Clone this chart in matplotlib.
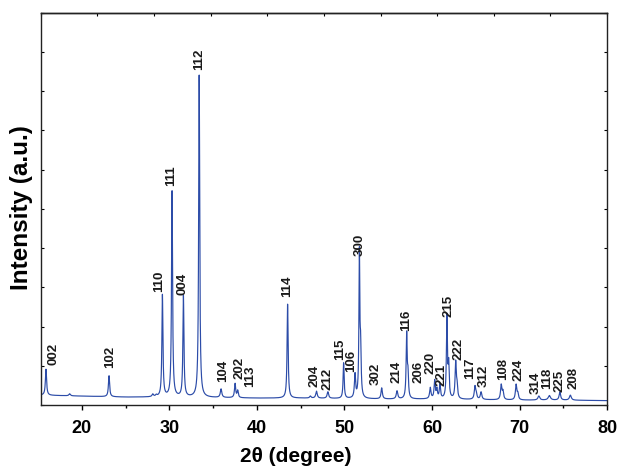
import numpy as np
import matplotlib
matplotlib.use("Agg")
import matplotlib.pyplot as plt
from matplotlib.ticker import MultipleLocator, NullFormatter

plt.rcParams['font.family'] = ['Liberation Sans', 'DejaVu Sans']
plt.rcParams['font.weight'] = 'bold'

# background level read along the pattern (2theta, intensity a.u.)
bg_theta = [15.3, 20, 25, 30, 35, 40, 45, 50, 55, 60, 65, 70, 75, 80]
bg_level = [10, 9, 8, 8, 7.5, 7, 7, 6.5, 6, 6, 5.5, 5, 5, 4.5]

# reflections (incl. K-alpha2 shoulders and small blips): position, net height, width
peak_pos = [15.9, 18.6, 23.1, 28.1, 28.5, 29.2, 30.3, 31.6, 33.4, 35.9,
            37.5, 37.8, 43.5, 46.1, 46.8, 48.1, 49.9, 51.2, 51.7, 51.84,
            54.25, 56.0, 57.1, 57.25, 59.8, 60.3, 60.55, 60.9, 61.7, 61.9,
            62.7, 62.85, 64.9, 65.05, 65.6, 67.9, 68.1, 69.6, 69.8, 72.2,
            73.4, 74.6, 75.8]
peak_height = [26, 2, 21, 2.5, 1.5, 102, 206, 101, 322, 8.5,
               14, 7, 94, 2, 7, 6.5, 35.5, 23.5, 142.5, 45,
               11, 8, 64, 22, 11, 18, 9, 14, 82, 32,
               36, 12, 12.5, 5, 7.5, 14.5, 8, 15, 6, 4,
               4.5, 8, 5]
peak_width = [0.16, 0.2, 0.16, 0.2, 0.2, 0.14, 0.14, 0.14, 0.14, 0.2,
              0.16, 0.16, 0.14, 0.2, 0.2, 0.2, 0.14, 0.16, 0.12, 0.14,
              0.18, 0.2, 0.14, 0.14, 0.18, 0.16, 0.16, 0.16, 0.14, 0.14,
              0.16, 0.16, 0.18, 0.18, 0.2, 0.18, 0.18, 0.18, 0.18, 0.25,
              0.3, 0.2, 0.25]

# hkl labels: text centre (2theta), bottom of text (intensity)
hkl = ['002', '102', '110', '111', '004', '112', '104', '202', '113', '114',
       '204', '212', '115', '106', '300', '302', '214', '116', '206', '220',
       '221', '215', '222', '117', '312', '108', '224', '314', '118', '225',
       '208']
label_x = [16.8, 23.2, 28.8, 30.2, 31.5, 33.4, 36.1, 38.0, 39.2, 43.5,
           46.6, 48.1, 49.5, 50.8, 51.7, 53.6, 55.9, 57.0, 58.5, 59.8,
           61.1, 61.9, 63.0, 64.4, 65.9, 68.1, 69.9, 71.8, 73.2, 74.6,
           76.2]
label_y = [40, 37, 113, 219, 110, 335, 23, 26, 18, 108,
           18, 15, 45, 33, 149, 20, 22, 74, 22, 31,
           19, 88, 45, 26, 18, 25, 24, 11, 16, 13,
           16]

x_min, x_max = 15.3, 80
y_max = 392

theta = np.linspace(x_min, x_max, 8000)
intensity = np.interp(theta, bg_theta, bg_level)
for p, h, w in zip(peak_pos, peak_height, peak_width):
    intensity = intensity + h / (1 + ((theta - p) / (w / 2)) ** 2)

fig = plt.figure(figsize=(6.17, 4.70), dpi=100)
ax = fig.add_axes([0.066, 0.138, 0.918, 0.835])
ax.plot(theta, intensity, color='#2c4ca8', lw=0.85)

for lab, lx, ly in zip(hkl, label_x, label_y):
    ax.text(lx, ly, lab, rotation=90, ha='center', va='bottom',
            fontsize=9.5, fontweight='bold', color='#1a1a1a')

ax.set_xlim(x_min, x_max)
ax.set_ylim(0, y_max)
ax.xaxis.set_major_locator(MultipleLocator(10))
ax.xaxis.set_minor_locator(MultipleLocator(5))
ax.tick_params(axis='x', which='major', direction='out', length=3.5, width=1,
               labelsize=13, pad=7)
ax.tick_params(axis='x', which='minor', direction='out', length=2, width=1)
for t in ax.get_xticklabels():
    t.set_fontweight('bold')

ax.set_yticks(np.linspace(0, y_max, 11))
ax.yaxis.set_major_formatter(NullFormatter())
ax.tick_params(axis='y', which='both', direction='in', length=2.5, width=0.8,
               left=True, right=True)

top = ax.secondary_xaxis('top')
top.set_xticks(np.linspace(x_min, x_max, 11))
top.tick_params(direction='in', length=2.5, width=0.8, labeltop=False)
top.xaxis.set_major_formatter(NullFormatter())

for s in ax.spines.values():
    s.set_linewidth(1.0)
    s.set_color('#222222')
top.spines['top'].set_linewidth(1.0)

fig.text(295.5 / 617, 1 - 457 / 470, '2θ (degree)', ha='center', va='center',
         fontsize=15, fontweight='bold')
fig.text(22 / 617, 1 - 208 / 470, 'Intensity (a.u.)', ha='center', va='center',
         rotation=90, fontsize=17.5, fontweight='bold')

fig.savefig('out.png', dpi=100)
